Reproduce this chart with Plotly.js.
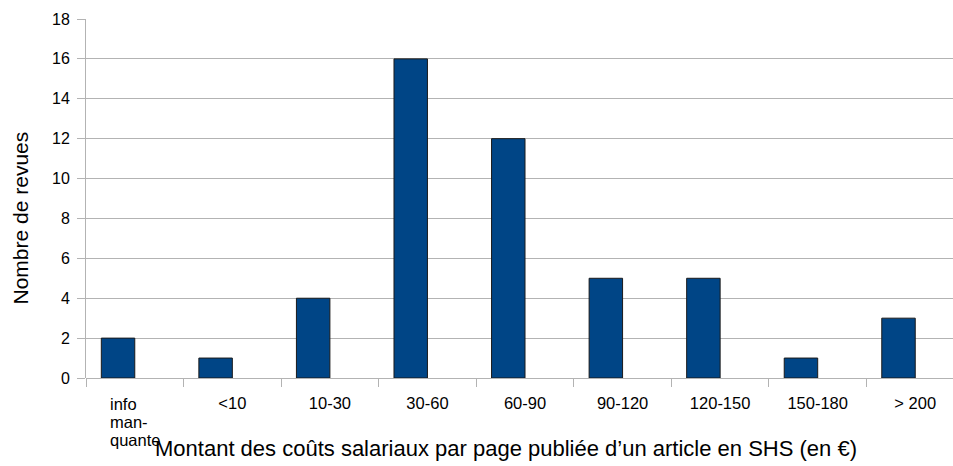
<!DOCTYPE html>
<html>
<head>
<meta charset="utf-8">
<script src="https://cdn.plot.ly/plotly-3.0.1.min.js"></script>
<style>html,body{margin:0;padding:0;background:#fff;}#chart{width:953px;height:466px;}</style>
</head>
<body>
<div id="chart"></div>
<script>
const categories = ["info man-quante", "<10", "10-30", "30-60", "60-90", "90-120", "120-150", "150-180", "> 200"];
const firstLabelLines = ["info", "man-", "quante"];
const revues = [2, 1, 4, 16, 12, 5, 5, 1, 3];
const xTitle = "Montant des coûts salariaux par page publiée d’un article en SHS (en €)";
const yTitle = "Nombre de revues";
const yTicks = [0, 2, 4, 6, 8, 10, 12, 14, 16, 18];

const tickText = categories.map((c, i) => i === 0 ? "" : c.replace("<", "&lt;"));

const trace = {
  type: "bar",
  x: categories,
  y: revues,
  width: 0.343,
  offset: -0.343,
  marker: {color: "#004586", line: {color: "#1a1a1a", width: 1}},
  hoverinfo: "x+y"
};

const font = "Liberation Sans, Arial, sans-serif";
const tickFont = {size: 16.5, family: font, color: "#000"};

const firstLabelAnnotations = firstLabelLines.map((line, i) => ({
  text: line,
  xref: "x", yref: "paper", x: categories[0], y: 0,
  xanchor: "left", yanchor: "middle", align: "left",
  xshift: -27, yshift: -26 - 18 * i,
  showarrow: false,
  font: tickFont
}));

const layout = {
  width: 953, height: 466,
  margin: {l: 86, r: 0, t: 19, b: 88},
  paper_bgcolor: "#ffffff", plot_bgcolor: "#ffffff",
  showlegend: false,
  font: {family: font, color: "#000000"},
  xaxis: {
    type: "category",
    range: [-0.5, 8.387],
    tickson: "boundaries",
    ticks: "outside", ticklen: 8, tickcolor: "#b3b3b3", tickwidth: 1,
    tickvals: categories, ticktext: tickText,
    tickfont: tickFont,
    ticklabelstandoff: 13,
    showgrid: false, showline: false, zeroline: false,
    fixedrange: true
  },
  yaxis: {
    range: [0, 18],
    tickvals: yTicks,
    ticks: "outside", ticklen: 8, tickcolor: "#b3b3b3", tickwidth: 1,
    tickfont: {size: 16, family: font, color: "#000"},
    showgrid: true, gridcolor: "#b3b3b3", gridwidth: 1,
    zeroline: true, zerolinecolor: "#b3b3b3", zerolinewidth: 1,
    showline: true, linecolor: "#b3b3b3", linewidth: 1,
    ticklabelstandoff: 4,
    fixedrange: true
  },
  annotations: firstLabelAnnotations.concat([
    {
      text: xTitle,
      xref: "paper", yref: "paper", x: 0.4844, y: 0,
      xanchor: "center", yanchor: "middle", yshift: -70,
      showarrow: false,
      font: {size: 22, family: font, color: "#000"}
    },
    {
      text: yTitle,
      xref: "paper", yref: "paper", x: 0, y: 0.4443,
      xanchor: "center", yanchor: "middle", xshift: -66,
      textangle: -90,
      showarrow: false,
      font: {size: 21, family: font, color: "#000"}
    }
  ])
};

Plotly.newPlot("chart", [trace], layout, {displayModeBar: false, staticPlot: true});
</script>
</body>
</html>
